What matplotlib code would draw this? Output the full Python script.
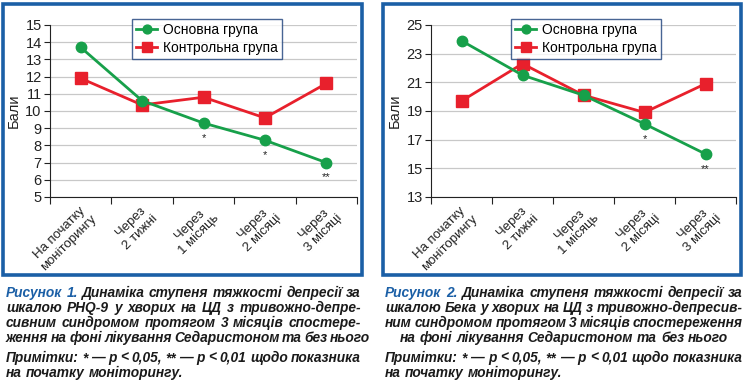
import numpy as np
import matplotlib.pyplot as plt
from matplotlib.patches import Rectangle

categories = ["На початку\nмоніторингу", "Через\n2 тижні", "Через\n1 місяць",
              "Через\n2 місяці", "Через\n3 місяці"]

# PHQ-9
main1 = [13.7, 10.6, 9.3, 8.3, 7.0]
ctrl1 = [11.9, 10.35, 10.8, 9.6, 11.6]
marks1 = ["", "", "*", "*", "**"]

# Beck
main2 = [23.9, 21.5, 20.1, 18.1, 16.0]
ctrl2 = [19.7, 22.3, 20.1, 18.9, 20.9]
marks2 = ["", "", "", "*", "**"]

caption1 = [
    ("Рисунок 1.", "Динаміка ступеня тяжкості депресії за"),
    ("", "шкалою PHQ-9 у хворих на ЦД з тривожно-депре-"),
    ("", "сивним синдромом протягом 3 місяців спостере-"),
    ("", "ження на фоні лікування Седаристоном та без нього"),
]
caption2 = [
    ("Рисунок 2.", "Динаміка ступеня тяжкості депресії за"),
    ("", "шкалою Бека у хворих на ЦД з тривожно-депресив-"),
    ("", "ним синдромом протягом 3 місяців спостереження"),
    ("", "на фоні лікування Седаристоном та без нього"),
]
note = ["Примітки: * — p < 0,05, ** — p < 0,01 щодо показника",
        "на початку моніторингу."]

GREEN = "#17a04a"
RED = "#e8202c"
BLUE = "#1b5fa6"
DARKBLUE = "#1a3f7a"

plt.rcParams['font.family'] = ['Liberation Sans', 'DejaVu Sans']

W, H = 748, 385
fig = plt.figure(figsize=(W / 100, H / 100), dpi=100)


def px(x0, y0, x1, y1):
    return [x0 / W, 1 - y1 / H, (x1 - x0) / W, (y1 - y0) / H]


def panel(rect, main, ctrl, marks, ylim, yticks, legpos):
    ax = fig.add_axes(px(*rect))
    xs = np.arange(len(categories)) + 0.5
    ax.plot(xs, main, "-o", color=GREEN, lw=2, ms=7.5, label="Основна група", zorder=4)
    ax.plot(xs, ctrl, "-s", color=RED, lw=2, ms=8.5, label="Контрольна група", zorder=3)
    for x, y, m in zip(xs, main, marks):
        if m:
            ax.annotate(m, (x, y), xytext=(0, -7), textcoords="offset points",
                        ha="center", va="top", fontsize=8, color="#222222")
    ax.set_xlim(0, len(categories))
    ax.set_ylim(*ylim)
    ax.set_yticks(yticks)
    ax.set_xticks(np.arange(len(categories) + 1))
    ax.set_xticklabels([])
    ax.set_xticks(xs, minor=True)
    ax.set_xticklabels(categories, minor=True, rotation=45, ha="right",
                       rotation_mode="anchor", fontsize=9.5, multialignment="center",
                       color="#222222")
    ax.tick_params(axis="x", which="minor", length=0, pad=4)
    ax.tick_params(axis="x", which="major", length=5, direction="out", color="#222222")
    ax.tick_params(axis="y", length=4, direction="out", labelsize=10.5, color="#222222",
                   labelcolor="#222222", pad=2)
    ax.grid(axis="y", color="#c8c8c8", lw=0.9)
    ax.set_axisbelow(True)
    for s in ["top", "right"]:
        ax.spines[s].set_visible(False)
    ax.spines["left"].set_color("#222222")
    ax.spines["bottom"].set_color("#222222")
    ax.set_ylabel("Бали", fontsize=10.5, labelpad=3, color="#222222")
    leg = ax.legend(loc="upper left", bbox_to_anchor=(legpos[0] / W, 1 - legpos[1] / H),
                    bbox_transform=fig.transFigure,
                    frameon=True, fancybox=False, fontsize=10, borderpad=0.3,
                    labelspacing=0.25, handlelength=1.5, handletextpad=0.45,
                    borderaxespad=0, markerscale=0.85)
    leg.get_frame().set_edgecolor(DARKBLUE)
    leg.get_frame().set_linewidth(1.0)
    return ax


panel((50, 25, 357, 197), main1, ctrl1, marks1, (5, 15), range(5, 16), (132, 19))
panel((431, 25, 736, 197), main2, ctrl2, marks2, (13, 25), range(13, 26, 2), (511, 19))

for x0, x1 in [(3, 362), (383, 741)]:
    fig.patches.append(Rectangle((x0 / W, 1 - 275 / H), (x1 - x0) / W, 271 / H,
                                 transform=fig.transFigure, fill=False,
                                 edgecolor=BLUE, lw=2.6))

fig.canvas.draw()
renderer = fig.canvas.get_renderer()
fs = 9.9


def words_width(words):
    w = []
    for word, col in words:
        t = fig.text(0, 0, word, fontsize=fs, fontweight="bold", fontstyle="italic")
        w.append(t.get_window_extent(renderer).width)
        t.remove()
    return w


def draw_line(x0, x1, y, words, justify=True, center=False):
    widths = words_width(words)
    total = sum(widths)
    if len(words) > 1 and justify:
        gap = max((x1 - x0 - total) / (len(words) - 1), 2.5)
    else:
        gap = 4
    x = x0
    if center:
        x = (x0 + x1 - total - gap * (len(words) - 1)) / 2
    for (word, col), w in zip(words, widths):
        fig.text(x / W, 1 - y / H, word, fontsize=fs, fontweight="bold",
                 fontstyle="italic", color=col, va="baseline")
        x += w + gap


def caption(x0, x1, lines, center_last=False):
    ys = [297, 312, 327, 342]
    for i, (blue, rest) in enumerate(lines):
        words = []
        if blue:
            words += [(w, BLUE) for w in blue.split()]
        words += [(w, "#1a1a1a") for w in rest.split()]
        c = center_last and i == len(lines) - 1
        draw_line(x0, x1, ys[i], words, justify=not c, center=c)
    draw_line(x0, x1, 362, [(w, "#1a1a1a") for w in note[0].split()])
    draw_line(x0, x1, 377, [(w, "#1a1a1a") for w in note[1].split()], justify=False)


caption(6, 361, caption1)
caption(385, 743, caption2, center_last=True)

fig.savefig("out.png", dpi=100)
